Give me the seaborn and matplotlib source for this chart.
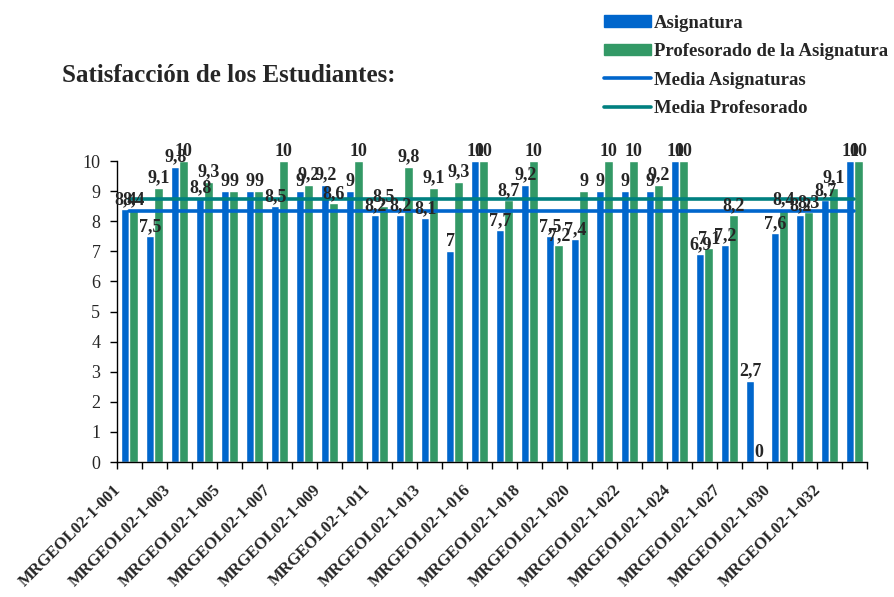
import matplotlib
matplotlib.use("Agg")
import matplotlib.pyplot as plt
import matplotlib.transforms as mtransforms
from matplotlib.patches import Patch
from matplotlib.lines import Line2D
import seaborn as sns
import pandas as pd
import numpy as np

# codes of the subjects (only every other one is labelled on the chart)
categorias = [
    "MRGEOL02-1-001", "MRGEOL02-1-002", "MRGEOL02-1-003", "MRGEOL02-1-004",
    "MRGEOL02-1-005", "MRGEOL02-1-006", "MRGEOL02-1-007", "MRGEOL02-1-008",
    "MRGEOL02-1-009", "MRGEOL02-1-010", "MRGEOL02-1-011", "MRGEOL02-1-012",
    "MRGEOL02-1-013", "MRGEOL02-1-014", "MRGEOL02-1-016", "MRGEOL02-1-017",
    "MRGEOL02-1-018", "MRGEOL02-1-019", "MRGEOL02-1-020", "MRGEOL02-1-021",
    "MRGEOL02-1-022", "MRGEOL02-1-023", "MRGEOL02-1-024", "MRGEOL02-1-025",
    "MRGEOL02-1-027", "MRGEOL02-1-028", "MRGEOL02-1-030", "MRGEOL02-1-031",
    "MRGEOL02-1-032", "MRGEOL02-1-033",
]
asignatura = [8.4, 7.5, 9.8, 8.8, 9, 9, 8.5, 9, 9.2, 9,
              8.2, 8.2, 8.1, 7, 10, 7.7, 9.2, 7.5, 7.4, 9,
              9, 9, 10, 6.9, 7.2, 2.7, 7.6, 8.2, 8.7, 10]
profesorado = [8.4, 9.1, 10, 9.3, 9, 9, 10, 9.2, 8.6, 10,
               8.5, 9.8, 9.1, 9.3, 10, 8.7, 10, 7.2, 9, 10,
               10, 9.2, 10, 7.1, 8.2, 0, 8.4, 8.3, 9.1, 10]
media_asignaturas = 8.35
media_profesorado = 8.75
series = ["Asignatura", "Profesorado de la Asignatura"]

azul = "#0066CC"
verde = "#339966"
teal = "#008080"
serif = "Liberation Serif"

df = pd.DataFrame({
    "codigo": categorias * 2,
    "valor": asignatura + profesorado,
    "serie": [series[0]] * len(categorias) + [series[1]] * len(categorias),
})

sns.set_style("white")
plt.rcParams["font.family"] = [serif, "DejaVu Serif"]

fig = plt.figure(figsize=(8.95, 5.97), dpi=100)
ax = fig.add_axes([0.1307, 0.2261, 0.8380, 0.5042])

sns.barplot(data=df, x="codigo", y="valor", hue="serie", order=categorias,
            hue_order=series, palette=[azul, verde], width=0.68,
            saturation=1, legend=False, ax=ax)

n = len(categorias)
ax.plot([0, n - 1], [media_profesorado] * 2, color=teal, lw=2.6, zorder=5)
ax.plot([0, n - 1], [media_asignaturas] * 2, color=azul, lw=2.6, zorder=5)

for cont, vals in zip(ax.containers, [asignatura, profesorado]):
    labs = [f"{v:g}".replace(".", ",") for v in vals]
    ax.bar_label(cont, labels=labs, padding=1, fontsize=13,
                 fontweight="bold", family=serif, zorder=6)

ax.set_ylim(0, 10)
ax.set_yticks(range(0, 11))
ax.set_xlim(-0.5, n - 0.5)
ax.set_xticks(range(0, n, 2))
ax.set_xticklabels(categorias[::2], rotation=45, ha="right",
                   rotation_mode="anchor", fontsize=12, fontweight="bold",
                   family=serif)
ax.set_xticks(np.arange(-0.5, n, 1), minor=True)
ax.tick_params(axis="x", which="major", length=0, pad=14)
ax.tick_params(axis="x", which="minor", length=5, width=1, color="black",
               direction="out", bottom=True)
ax.tick_params(axis="y", length=5, width=1, color="black", direction="out",
               left=True, labelsize=13, pad=7)
shift = mtransforms.ScaledTranslation(-17 / 100, 0, fig.dpi_scale_trans)
for lab in ax.get_xticklabels():
    lab.set_transform(lab.get_transform() + shift)
for lab in ax.get_yticklabels():
    lab.set_family(serif)
ax.set_xlabel("")
ax.set_ylabel("")
for s in ["top", "right"]:
    ax.spines[s].set_visible(False)
for s in ["left", "bottom"]:
    ax.spines[s].set_color("black")
    ax.spines[s].set_linewidth(1)

fig.text(62 / 895, 1 - 76 / 597, "Satisfacción de los Estudiantes:",
         fontsize=18, fontweight="bold", family=serif, va="center")

handles = [Patch(color=azul), Patch(color=verde),
           Line2D([], [], color=azul, lw=2.6), Line2D([], [], color=teal, lw=2.6)]
labels = series + ["Media Asignaturas", "Media Profesorado"]
fig.legend(handles, labels, loc="upper left", bbox_to_anchor=(597 / 895, 1 - 7 / 597),
           frameon=False, prop={"family": serif, "weight": "bold", "size": 13.5},
           handlelength=2.5, handleheight=0.6, handletextpad=0.15, labelspacing=0.62,
           borderaxespad=0)

fig.savefig("out.png", dpi=100)
